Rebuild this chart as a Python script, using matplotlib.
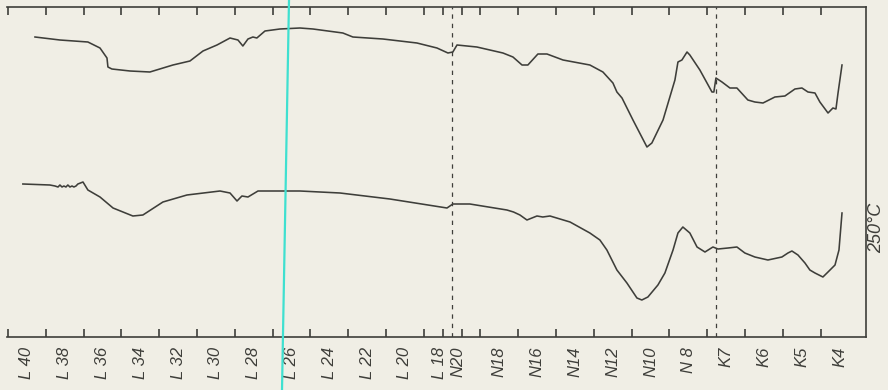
import matplotlib
matplotlib.use("Agg")
import matplotlib.pyplot as plt
from matplotlib.lines import Line2D

# Scale positions (one unit per tick mark) and the recorded deflection of each trace
upper_x = [1.43, 2.75, 4.23, 4.87, 5.24, 5.29, 5.50, 6.46, 7.51, 8.73, 9.63, 10.32,
           11.06, 11.75, 12.17, 12.43, 12.70, 12.96, 13.17, 13.60, 14.39, 15.45,
           16.14, 17.72, 18.25, 19.84, 21.64, 22.70, 23.28, 23.54, 23.76, 24.81,
           26.19, 26.72, 27.20, 27.51, 28.04, 28.52, 29.37, 30.79, 31.48, 32.01,
           32.22, 32.49, 33.07, 33.81, 34.07, 34.66, 35.29, 35.45, 35.66, 35.93,
           36.08, 36.61, 37.25, 37.35, 37.46, 37.78, 38.20, 38.57, 39.15, 39.52,
           39.95, 40.58, 41.11, 41.64, 42.01, 42.33, 42.70, 42.96, 43.39, 43.65,
           43.81, 43.92, 44.13]
upper_y = [300, 297, 295, 289, 279, 270, 268, 266, 265, 272, 276, 286,
           292, 299, 297, 291, 298, 300, 299, 306, 308, 309,
           308, 304, 300, 298, 294, 289, 284, 285, 292, 290,
           284, 280, 272, 272, 283, 283, 277, 272, 265, 254,
           245, 239, 217, 190, 194, 217, 257, 275, 277, 285,
           282, 267, 245, 245, 259, 255, 249, 249, 237, 235,
           234, 240, 241, 248, 249, 245, 244, 235, 224, 229,
           228, 244, 272]

lower_x = [0.79, 2.22, 2.49, 2.65, 2.75, 2.86, 2.96, 3.07, 3.17, 3.28, 3.39, 3.49,
           3.60, 3.70, 3.97, 4.23, 4.87, 5.56, 6.61, 7.14, 8.20, 9.47, 11.22,
           11.75, 12.12, 12.38, 12.70, 13.23, 15.45, 17.57, 20.21, 23.23, 23.54,
           24.44, 26.40, 26.75, 27.09, 27.46, 27.99, 28.30, 28.68, 29.74, 30.79,
           31.32, 31.69, 32.22, 32.75, 33.28, 33.54, 33.86, 34.39, 34.76, 35.19,
           35.45, 35.71, 36.08, 36.46, 36.88, 37.30, 37.57, 38.10, 38.57, 38.99,
           39.52, 40.21, 40.95, 41.27, 41.48, 41.80, 42.17, 42.43, 42.70, 43.12,
           43.39, 43.76, 43.97, 44.13]
lower_y = [153, 152, 151, 150, 152, 150, 151, 150, 152, 150, 151, 150,
           151, 153, 155, 147, 140, 129, 121, 122, 135, 142, 146,
           144, 136, 141, 140, 146, 146, 144, 138, 129, 133,
           133, 127, 125, 122, 117, 121, 120, 121, 115, 104,
           97, 87, 67, 54, 39, 37, 40, 52, 64, 87,
           104, 110, 104, 90, 85, 90, 88, 89, 90, 84,
           80, 77, 80, 84, 86, 82, 74, 67, 64, 60,
           65, 72, 87, 124]

# Scale designations under the bottom edge
scale_labels = ["L 40", "L 38", "L 36", "L 34", "L 32", "L 30", "L 28", "L 26",
                "L 24", "L 22", "L 20", "L 18", "N20", "N18", "N16", "N14",
                "N12", "N10", "N 8", "K7", "K6", "K5", "K4"]
scale_label_pos = [1, 3, 5, 7, 9, 11, 13, 15, 17, 19, 21, 22.85, 23.8, 26, 28,
                   30, 32, 34, 36, 38, 40, 42, 44]
marker_lines = [23.5, 37.46]
temp_label = "250\u00b0C"

paper = "#f0eee5"
ink = "#3e3e3a"

fig = plt.figure(figsize=(8.88, 3.90), dpi=100, facecolor=paper)
W, H = 888, 390
ax = fig.add_axes([7 / W, 1 - 337 / H, (866 - 7) / W, (337 - 7) / H])
ax.set_facecolor(paper)

ax.plot(upper_x, upper_y, color=ink, lw=1.15, solid_joinstyle="round")
ax.plot(lower_x, lower_y, color=ink, lw=1.15, solid_joinstyle="round")

for xm in marker_lines:
    ax.axvline(xm, color=ink, lw=0.9, linestyle=(0, (3.5, 4)))

ax.set_xlim(-0.05, 45.4)
ax.set_ylim(0, 330)

for side in ("top", "bottom", "right"):
    ax.spines[side].set_color(ink)
    ax.spines[side].set_linewidth(1.2)
ax.spines["left"].set_visible(False)

ax.set_yticks([])
ax.set_xticks(scale_label_pos)
ax.set_xticklabels(scale_labels, rotation=90, fontsize=12, style="italic",
                   family="Liberation Sans", color=ink)
ax.set_xticks(range(0, 45), minor=True)
ax.tick_params(axis="x", which="major", length=0, pad=7)
ax.tick_params(axis="x", which="minor", length=6, width=1.2, direction="in",
               top=True, bottom=True, color=ink)

fig.text(877 / W, 1 - 228 / H, temp_label, rotation=90, ha="center", va="center",
         fontsize=13, style="italic", family="Liberation Sans", color=ink)

# cyan guide line running across the sheet
fig.add_artist(Line2D([289 / W, 282 / W], [1, 0], transform=fig.transFigure,
                      color="#3fe0d0", lw=1.6))

fig.savefig("out.png", dpi=100, facecolor=paper)
